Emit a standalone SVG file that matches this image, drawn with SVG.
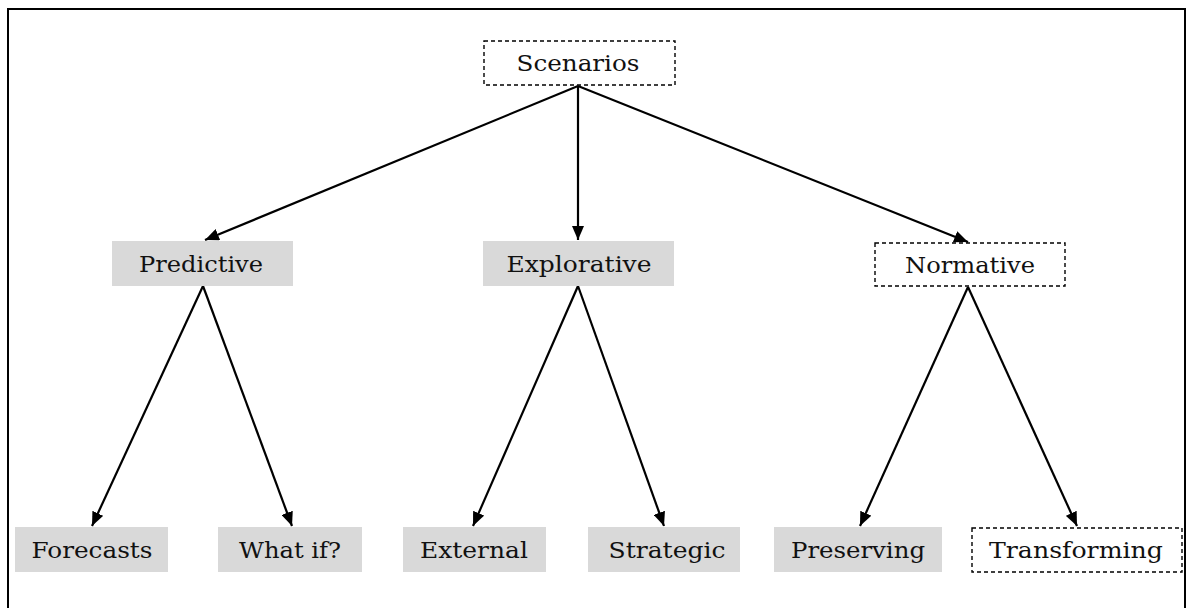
<svg xmlns="http://www.w3.org/2000/svg" width="1187" height="608" viewBox="0 0 1187 608">
  <defs>
    <marker id="arrow" viewBox="0 0 14 12" refX="14" refY="6" markerWidth="14" markerHeight="12" markerUnits="userSpaceOnUse" orient="auto">
      <path d="M0,0 L14,6 L0,12 Z" fill="#000"/>
    </marker>
    <style>
      .solid { fill: #d9d9d9; stroke: none; }
      .dashed { fill: #fff; stroke: #000; stroke-width: 1.4; stroke-dasharray: 4 3; }
      .label { font-family: "DejaVu Serif", "Liberation Serif", serif; font-size: 23px; fill: #111; text-anchor: middle; dominant-baseline: central; }
      .edge { stroke: #000; stroke-width: 2.2; fill: none; marker-end: url(#arrow); }
    </style>
  </defs>

  <rect x="0" y="0" width="1187" height="608" fill="#fff"/>
  <!-- outer frame, open at the bottom -->
  <path d="M8,620 L8,9 L1185,9 L1185,620" fill="none" stroke="#000" stroke-width="2"/>

  <g id="connectors">
    <line class="edge" x1="578" y1="86" x2="205" y2="240"/>
    <line class="edge" x1="578" y1="86" x2="578" y2="240"/>
    <line class="edge" x1="578" y1="86" x2="968" y2="242"/>
    <line class="edge" x1="203" y1="286" x2="92" y2="526"/>
    <line class="edge" x1="203" y1="286" x2="292" y2="526"/>
    <line class="edge" x1="578" y1="286" x2="473" y2="526"/>
    <line class="edge" x1="578" y1="286" x2="664" y2="526"/>
    <line class="edge" x1="968" y1="287" x2="860" y2="526"/>
    <line class="edge" x1="968" y1="287" x2="1077" y2="526"/>
  </g>

  <g id="scenarios">
    <rect class="dashed" x="484" y="41" width="191" height="44"/>
    <text class="label" x="578" y="63" textLength="123" lengthAdjust="spacingAndGlyphs">Scenarios</text>
  </g>
  <g id="predictive">
    <rect class="solid" x="112" y="241" width="181" height="45"/>
    <text class="label" x="201" y="264" textLength="124" lengthAdjust="spacingAndGlyphs">Predictive</text>
  </g>
  <g id="explorative">
    <rect class="solid" x="483" y="241" width="191" height="45"/>
    <text class="label" x="579" y="264" textLength="145" lengthAdjust="spacingAndGlyphs">Explorative</text>
  </g>
  <g id="normative">
    <rect class="dashed" x="875" y="243" width="190" height="43"/>
    <text class="label" x="970" y="265" textLength="130" lengthAdjust="spacingAndGlyphs">Normative</text>
  </g>
  <g id="forecasts">
    <rect class="solid" x="15" y="527" width="153" height="45"/>
    <text class="label" x="92" y="550" textLength="121" lengthAdjust="spacingAndGlyphs">Forecasts</text>
  </g>
  <g id="what-if">
    <rect class="solid" x="218" y="527" width="144" height="45"/>
    <text class="label" x="290" y="550" textLength="102" lengthAdjust="spacingAndGlyphs">What if?</text>
  </g>
  <g id="external">
    <rect class="solid" x="403" y="527" width="143" height="45"/>
    <text class="label" x="474" y="550" textLength="108" lengthAdjust="spacingAndGlyphs">External</text>
  </g>
  <g id="strategic">
    <rect class="solid" x="588" y="527" width="152" height="45"/>
    <text class="label" x="667" y="550" textLength="117" lengthAdjust="spacingAndGlyphs">Strategic</text>
  </g>
  <g id="preserving">
    <rect class="solid" x="774" y="527" width="168" height="45"/>
    <text class="label" x="858" y="550" textLength="134" lengthAdjust="spacingAndGlyphs">Preserving</text>
  </g>
  <g id="transforming">
    <rect class="dashed" x="972" y="528" width="210" height="44"/>
    <text class="label" x="1076" y="550" textLength="174" lengthAdjust="spacingAndGlyphs">Transforming</text>
  </g>
</svg>
